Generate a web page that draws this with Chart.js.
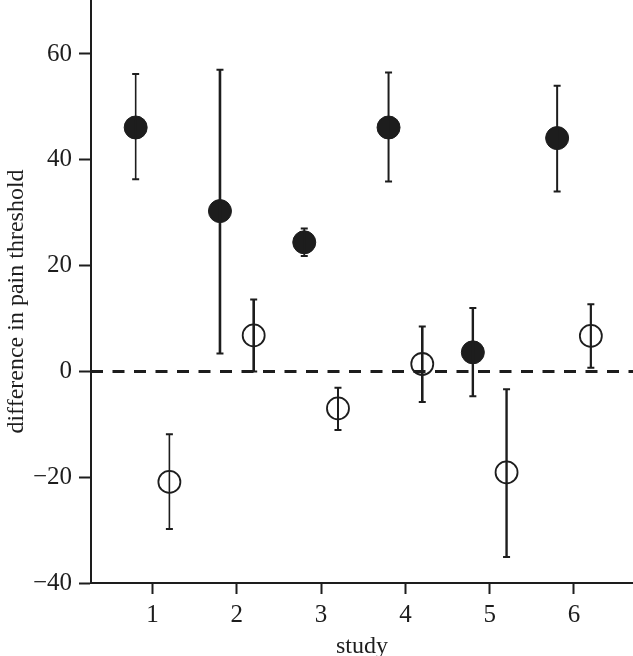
<!DOCTYPE html>
<html>
<head>
<meta charset="utf-8">
<script src="https://cdn.jsdelivr.net/npm/chart.js@4"></script>
<style>
  html, body { margin: 0; padding: 0; background: #fff; }
  #wrap { width: 633px; height: 656px; }
</style>
</head>
<body>
<div id="wrap"><canvas id="c"></canvas></div>
<script>
// study positions (filled = treatment, open = control), offset around each study number
const filledX = [0.8, 1.8, 2.8, 3.8, 4.8, 5.8]
const filledY = [46.1, 30.3, 24.4, 46.1, 3.6, 44.1]
const filledLo = [36.3, 3.4, 21.8, 35.9, -4.7, 34.0]
const filledHi = [56.2, 57.0, 27.0, 56.5, 12.0, 54.0]

const openX = [1.2, 2.2, 3.2, 4.2, 5.2, 6.2]
const openY = [-20.9, 6.8, -7.0, 1.4, -19.1, 6.7]
const openLo = [-29.8, 0.0, -11.1, -5.8, -35.1, 0.7]
const openHi = [-11.9, 13.6, -3.1, 8.5, -3.4, 12.7]

const xTicks = [1, 2, 3, 4, 5, 6]
const yTicks = [-40, -20, 0, 20, 40, 60]
const yTitle = 'difference in pain threshold'

// line weight of each error bar
const filledBarW = [1.6, 2.6, 1.8, 2.0, 2.4, 2.0]
const openBarW = [1.6, 2.6, 2.0, 2.6, 2.4, 2.2]

const ink = '#1d1d1d'
const serif = "'Liberation Serif', 'DejaVu Serif', serif"

const toPoints = (xs, ys) => xs.map((x, i) => ({ x, y: ys[i] }))

const errorBars = {
  id: 'errorBars',
  afterDatasetsDraw(chart) {
    const { ctx, scales: { x, y } } = chart
    const sets = [
      { xs: filledX, lo: filledLo, hi: filledHi, w: filledBarW },
      { xs: openX, lo: openLo, hi: openHi, w: openBarW }
    ]
    ctx.save()
    ctx.strokeStyle = ink
    sets.forEach(s => {
      s.xs.forEach((xv, i) => {
        const px = x.getPixelForValue(xv)
        const top = y.getPixelForValue(s.hi[i])
        const bot = y.getPixelForValue(s.lo[i])
        ctx.lineWidth = s.w[i]
        ctx.beginPath()
        ctx.moveTo(px, top)
        ctx.lineTo(px, bot)
        ctx.stroke()
        ctx.lineWidth = 2
        ctx.beginPath()
        ctx.moveTo(px - 3.5, top)
        ctx.lineTo(px + 3.5, top)
        ctx.moveTo(px - 3.5, bot)
        ctx.lineTo(px + 3.5, bot)
        ctx.stroke()
      })
    })
    ctx.restore()
  }
}

const zeroLine = {
  id: 'zeroLine',
  beforeDatasetsDraw(chart) {
    const { ctx, chartArea, scales: { y } } = chart
    const py = y.getPixelForValue(0)
    ctx.save()
    ctx.strokeStyle = ink
    ctx.lineWidth = 3
    ctx.setLineDash([12, 9.5])
    ctx.beginPath()
    ctx.moveTo(chartArea.left, py)
    ctx.lineTo(chartArea.right, py)
    ctx.stroke()
    ctx.restore()
  }
}

// y title sits a little below the middle of the axis in the original
const yAxisTitle = {
  id: 'yAxisTitle',
  afterDraw(chart) {
    const { ctx, chartArea } = chart
    ctx.save()
    ctx.translate(17, (chartArea.top + chartArea.bottom) / 2 + 10)
    ctx.rotate(-Math.PI / 2)
    ctx.fillStyle = ink
    ctx.font = '24px ' + serif
    ctx.textAlign = 'center'
    ctx.textBaseline = 'middle'
    ctx.fillText(yTitle, 0, 0)
    ctx.restore()
  }
}

new Chart(document.getElementById('c'), {
  type: 'scatter',
  data: {
    datasets: [
      {
        data: toPoints(filledX, filledY),
        pointRadius: 11.5,
        pointBackgroundColor: ink,
        pointBorderColor: ink,
        pointBorderWidth: 1
      },
      {
        data: toPoints(openX, openY),
        pointRadius: 11,
        pointBackgroundColor: 'rgba(0,0,0,0)',
        pointBorderColor: ink,
        pointBorderWidth: 1.8
      }
    ]
  },
  options: {
    responsive: true,
    maintainAspectRatio: false,
    animation: false,
    layout: { padding: 0, autoPadding: false },
    plugins: {
      legend: { display: false },
      tooltip: { enabled: false }
    },
    scales: {
      x: {
        type: 'linear',
        min: 0.27,
        max: 6.7,
        afterBuildTicks: s => { s.ticks = xTicks.map(v => ({ value: v })) },
        afterFit: s => {
          s.height = 73
          s.paddingLeft = 0
          s.paddingRight = 0
        },
        grid: { drawOnChartArea: false, drawTicks: true, tickLength: 11, tickWidth: 2, color: ink },
        border: { color: ink, width: 2 },
        ticks: { color: ink, padding: 6, font: { family: serif, size: 25 } },
        title: {
          display: true,
          text: 'study',
          color: ink,
          padding: { top: 0, bottom: 0 },
          font: { family: serif, size: 24, lineHeight: 0.8 }
        }
      },
      y: {
        min: -40,
        max: 70.2,
        afterBuildTicks: s => { s.ticks = yTicks.map(v => ({ value: v })) },
        afterFit: s => {
          s.width = 91
          s.paddingTop = 0
          s.paddingBottom = 0
        },
        grid: { drawOnChartArea: false, drawTicks: true, tickLength: 12, tickWidth: 2, color: ink },
        border: { color: ink, width: 2 },
        ticks: {
          color: ink,
          padding: 7,
          font: { family: serif, size: 25 },
          callback: v => (v < 0 ? '\u2212' + Math.abs(v) : String(v))
        },
        title: { display: false }
      }
    }
  },
  plugins: [zeroLine, errorBars, yAxisTitle]
})
</script>
</body>
</html>
